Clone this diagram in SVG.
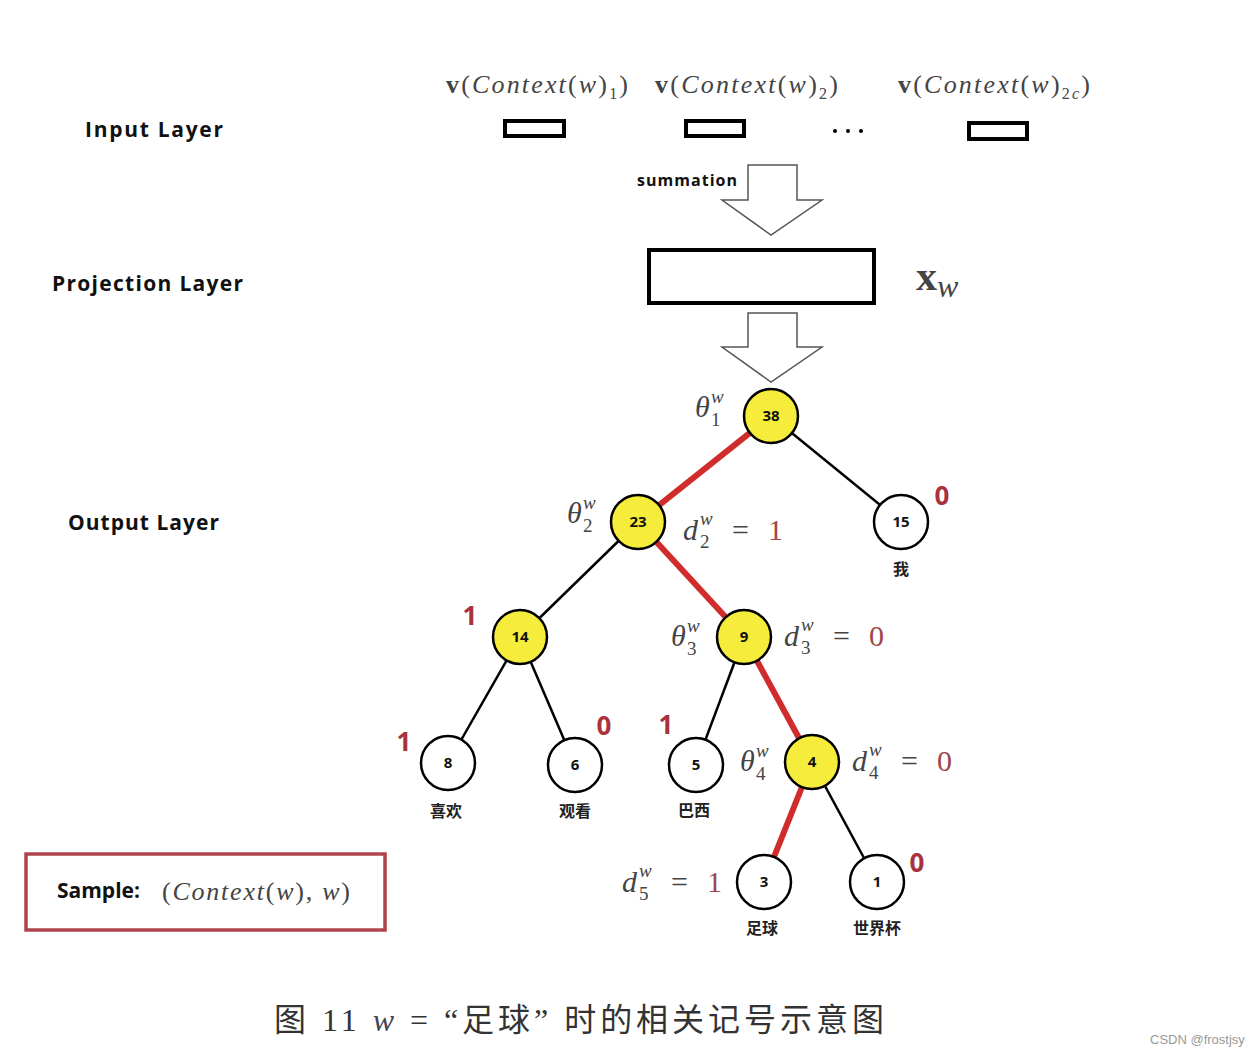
<svg xmlns="http://www.w3.org/2000/svg" width="1258" height="1056" viewBox="0 0 1258 1056">
<style>
.lay{font-family:"Open Sans","Noto Sans",sans-serif;font-weight:bold;font-size:21px;fill:#111}
.m{font-family:"Liberation Serif",serif;font-style:italic;fill:#444}
.mu{font-family:"Liberation Serif",serif;fill:#444}
.num{font-family:"Open Sans","Noto Sans",sans-serif;font-weight:bold;font-size:15px;fill:#111;text-anchor:middle}
.red{font-family:"Open Sans","Noto Sans",sans-serif;font-weight:bold;font-size:26px;fill:#a8323e;text-anchor:middle}
.rv{font-family:"Liberation Serif",serif;fill:#a0454a}
.cn{font-family:"Noto Sans CJK SC",sans-serif;font-weight:bold;font-size:16px;fill:#222;text-anchor:middle}
.ib{fill:none;stroke:#000;stroke-width:4}
.yel{fill:#f5ec3c;stroke:#000;stroke-width:2.5}
.wh{fill:#fff;stroke:#000;stroke-width:2.5}
.blk{stroke:#000;stroke-width:2.5}
.rd{stroke:#d12c2c;stroke-width:6}
.arr{fill:#fff;stroke:#555;stroke-width:1.5}
</style>
<rect width="1258" height="1056" fill="#fff"/>
<g id="labels">
<text class="lay" x="85" y="137" textLength="138" lengthAdjust="spacing">Input  Layer</text>
<text class="lay" x="52" y="291" textLength="191" lengthAdjust="spacing">Projection  Layer</text>
<text class="lay" x="68" y="530" textLength="151" lengthAdjust="spacing">Output Layer</text>
</g>
<g id="input">
<text x="446" y="93" font-size="26" textLength="182" lengthAdjust="spacing"><tspan class="mu" font-weight="bold">v</tspan><tspan class="mu">(</tspan><tspan class="m">Context</tspan><tspan class="mu">(</tspan><tspan class="m">w</tspan><tspan class="mu">)</tspan><tspan class="mu" font-size="16" dy="6">1</tspan><tspan class="mu" dy="-6">)</tspan></text>
<text x="655" y="93" font-size="26" textLength="183" lengthAdjust="spacing"><tspan class="mu" font-weight="bold">v</tspan><tspan class="mu">(</tspan><tspan class="m">Context</tspan><tspan class="mu">(</tspan><tspan class="m">w</tspan><tspan class="mu">)</tspan><tspan class="mu" font-size="16" dy="6">2</tspan><tspan class="mu" dy="-6">)</tspan></text>
<text x="898" y="93" font-size="26" textLength="192" lengthAdjust="spacing"><tspan class="mu" font-weight="bold">v</tspan><tspan class="mu">(</tspan><tspan class="m">Context</tspan><tspan class="mu">(</tspan><tspan class="m">w</tspan><tspan class="mu">)</tspan><tspan class="mu" font-size="16" dy="6">2</tspan><tspan class="m" font-size="16">c</tspan><tspan class="mu" dy="-6">)</tspan></text>
<rect class="ib" x="505" y="121" width="59" height="15"/>
<rect class="ib" x="686" y="121" width="58" height="15"/>
<rect class="ib" x="969" y="123" width="58" height="16"/>
<circle cx="835" cy="131" r="2" fill="#000"/><circle cx="848" cy="131" r="2" fill="#000"/><circle cx="861" cy="131" r="2" fill="#000"/>
</g>
<g id="summation">
<polygon class="arr" points="748,165 797,165 797,200 822,200 771,235 722,200 748,200"/>
<text x="637" y="186" font-family="Open Sans,Noto Sans,sans-serif" font-weight="bold" font-size="16" fill="#111" textLength="100" lengthAdjust="spacing">summation</text>
</g>
<g id="projection">
<rect x="649" y="250" width="225" height="53" fill="#fff" stroke="#000" stroke-width="4"/>
<text x="916" y="290" font-size="42"><tspan class="mu" font-weight="bold" fill="#222">x</tspan><tspan class="m" font-size="32" dy="7" fill="#222">w</tspan></text>
<polygon class="arr" points="748,313 797,313 797,347 822,347 771,382 722,347 748,347"/>
</g>
<g id="connectors">
<line class="rd" x1="771" y1="416" x2="638" y2="522"/>
<line class="blk" x1="771" y1="416" x2="901" y2="522"/>
<line class="blk" x1="638" y1="522" x2="520" y2="637"/>
<line class="rd" x1="638" y1="522" x2="744" y2="637"/>
<line class="blk" x1="520" y1="637" x2="448" y2="763"/>
<line class="blk" x1="520" y1="637" x2="575" y2="765"/>
<line class="blk" x1="744" y1="637" x2="696" y2="765"/>
<line class="rd" x1="744" y1="637" x2="812" y2="762"/>
<line class="rd" x1="812" y1="762" x2="764" y2="882"/>
<line class="blk" x1="812" y1="762" x2="877" y2="882"/>
</g>
<g id="n38"><circle class="yel" cx="771" cy="416" r="27"/><text class="num" x="771" y="421">38</text></g>
<g id="n23"><circle class="yel" cx="638" cy="522" r="27"/><text class="num" x="638" y="527">23</text></g>
<g id="n15"><circle class="wh" cx="901" cy="522" r="27"/><text class="num" x="901" y="527">15</text><text class="cn" x="901" y="575">我</text></g>
<g id="n14"><circle class="yel" cx="520" cy="637" r="27"/><text class="num" x="520" y="642">14</text></g>
<g id="n9"><circle class="yel" cx="744" cy="637" r="27"/><text class="num" x="744" y="642">9</text></g>
<g id="n8"><circle class="wh" cx="448" cy="763" r="27"/><text class="num" x="448" y="768">8</text><text class="cn" x="446" y="817">喜欢</text></g>
<g id="n6"><circle class="wh" cx="575" cy="765" r="27"/><text class="num" x="575" y="770">6</text><text class="cn" x="575" y="817">观看</text></g>
<g id="n5"><circle class="wh" cx="696" cy="765" r="27"/><text class="num" x="696" y="770">5</text><text class="cn" x="694" y="816">巴西</text></g>
<g id="n4"><circle class="yel" cx="812" cy="762" r="27"/><text class="num" x="812" y="767">4</text></g>
<g id="n3"><circle class="wh" cx="764" cy="882" r="27"/><text class="num" x="764" y="887">3</text><text class="cn" x="762" y="934">足球</text></g>
<g id="n1"><circle class="wh" cx="877" cy="882" r="27"/><text class="num" x="877" y="887">1</text><text class="cn" x="877" y="934">世界杯</text></g>
<g id="codes">
<text class="red" x="942" y="505">0</text>
<text class="red" x="470" y="625">1</text>
<text class="red" x="404" y="751">1</text>
<text class="red" x="604" y="735">0</text>
<text class="red" x="666" y="734">1</text>
<text class="red" x="917" y="872">0</text>
</g>
<g id="math">
<text class="m" x="695" y="417" font-size="30">θ</text><text class="m" x="711" y="403" font-size="19">w</text><text class="mu" x="711" y="426" font-size="19">1</text>
<text class="m" x="567" y="523" font-size="30">θ</text><text class="m" x="583" y="509" font-size="19">w</text><text class="mu" x="583" y="532" font-size="19">2</text>
<text class="m" x="683" y="540" font-size="30">d</text><text class="m" x="700" y="525" font-size="19">w</text><text class="mu" x="700" y="548" font-size="19">2</text><text class="mu" x="732" y="540" font-size="30">=</text><text class="rv" x="768" y="540" font-size="30">1</text>
<text class="m" x="671" y="646" font-size="30">θ</text><text class="m" x="687" y="632" font-size="19">w</text><text class="mu" x="687" y="655" font-size="19">3</text>
<text class="m" x="784" y="646" font-size="30">d</text><text class="m" x="801" y="631" font-size="19">w</text><text class="mu" x="801" y="654" font-size="19">3</text><text class="mu" x="833" y="646" font-size="30">=</text><text class="rv" x="869" y="646" font-size="30">0</text>
<text class="m" x="740" y="771" font-size="30">θ</text><text class="m" x="756" y="757" font-size="19">w</text><text class="mu" x="756" y="780" font-size="19">4</text>
<text class="m" x="852" y="771" font-size="30">d</text><text class="m" x="869" y="756" font-size="19">w</text><text class="mu" x="869" y="779" font-size="19">4</text><text class="mu" x="901" y="771" font-size="30">=</text><text class="rv" x="937" y="771" font-size="30">0</text>
<text class="m" x="622" y="892" font-size="30">d</text><text class="m" x="639" y="877" font-size="19">w</text><text class="mu" x="639" y="900" font-size="19">5</text><text class="mu" x="671" y="892" font-size="30">=</text><text class="rv" x="707" y="892" font-size="30">1</text>
</g>
<g id="sample">
<rect x="26" y="854" width="359" height="76" fill="none" stroke="#b0444c" stroke-width="3.5"/>
<text x="57" y="898" font-family="Open Sans,Noto Sans,sans-serif" font-weight="bold" font-size="21" fill="#111">Sample:</text>
<text x="162" y="900" font-size="26" fill="#555" textLength="188" lengthAdjust="spacing"><tspan class="mu">(</tspan><tspan class="m">Context</tspan><tspan class="mu">(</tspan><tspan class="m">w</tspan><tspan class="mu">), </tspan><tspan class="m">w</tspan><tspan class="mu">)</tspan></text>
</g>
<g id="caption">
<text x="274" y="1031" font-family="Liberation Serif,Noto Sans CJK SC,serif" font-size="32" fill="#333" textLength="610" lengthAdjust="spacing">图 11  <tspan font-style="italic" fill="#445">w</tspan> = “足球” 时的相关记号示意图</text>
<text x="1150" y="1044" font-family="Liberation Sans,sans-serif" font-size="13" fill="#999">CSDN @frostjsy</text>
</g>
</svg>
